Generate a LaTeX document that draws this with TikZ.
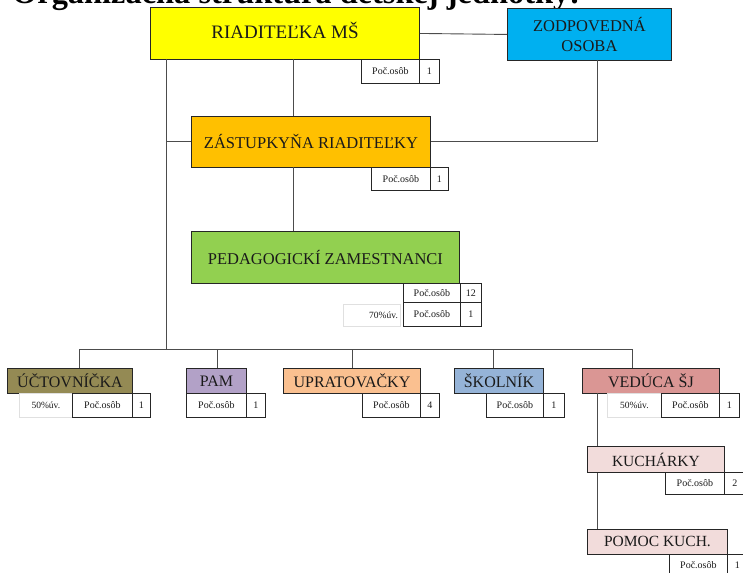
\documentclass[tikz,border=0pt]{standalone}
\usepackage{fontspec}
\setmainfont{Liberation Serif}
\definecolor{cyel}{HTML}{FFFF00}
\definecolor{cblue}{HTML}{00B0F0}
\definecolor{corange}{HTML}{FFC000}
\definecolor{cgreen}{HTML}{92D050}
\definecolor{colive}{HTML}{948A54}
\definecolor{clilac}{HTML}{B2A1C7}
\definecolor{cpeach}{HTML}{FAC090}
\definecolor{csky}{HTML}{95B3D7}
\definecolor{crose}{HTML}{DA9694}
\definecolor{cpink}{HTML}{F2DCDB}
\definecolor{ctext}{HTML}{1A1A1A}
\begin{document}
\begin{tikzpicture}[x=1pt,y=-1pt,
  box/.style={draw=black!85, line width=0.9pt, inner sep=0pt, anchor=north west, text=ctext, align=center},
  cell/.style={draw=black!85, line width=0.8pt, inner sep=0pt, anchor=north west, text=ctext, font=\fontsize{10}{12}\selectfont},
  pct/.style={draw=black!12, line width=0.8pt, inner sep=0pt, anchor=north west, text=ctext, font=\fontsize{9.5}{12}\selectfont},
  conn/.style={draw=black!70, line width=0.9pt},
  big/.style={font=\fontsize{19}{22}\selectfont},
  mid/.style={font=\fontsize{16.5}{20}\selectfont},
  low/.style={font=\fontsize{16}{19}\selectfont},
  sml/.style={font=\fontsize{15.5}{18}\selectfont}]
\useasboundingbox (0,0) rectangle (743,572);

% title (cut by page top)
\node[anchor=base west, inner sep=0pt, font=\fontsize{32.4}{36}\selectfont\bfseries] (T) at (12,4) {Organizačná štruktúra detskej jednotky:};

% main boxes
\node[box, big, fill=cyel, minimum width=269pt, minimum height=52pt, text height=12.6pt, text depth=2.6pt] (R) at (150,7) {RIADITEĽKA MŠ};
\node[box, mid, fill=cblue, minimum width=164pt, minimum height=52pt] (Z) at (507,8) {ZODPOVEDNÁ\\OSOBA};
\node[box, mid, fill=corange, minimum width=239pt, minimum height=51pt] (ZR) at (191,116) {ZÁSTUPKYŇA RIADITEĽKY};
\node[box, mid, fill=cgreen, minimum width=268pt, minimum height=52pt] (P) at (191,231) {PEDAGOGICKÍ ZAMESTNANCI};

\node[box, low, fill=colive, minimum width=125pt, minimum height=25pt] (U) at (7,368) {ÚČTOVNÍČKA};
\node[box, low, fill=clilac, minimum width=60pt, minimum height=25pt] (PAM) at (186,368) {PAM};
\node[box, low, fill=cpeach, minimum width=137pt, minimum height=25pt] (UP) at (283,368) {UPRATOVAČKY};
\node[box, low, fill=csky, minimum width=89pt, minimum height=25pt] (SK) at (454,368) {ŠKOLNÍK};
\node[box, low, fill=crose, minimum width=137pt, minimum height=25pt] (V) at (582,368) {VEDÚCA ŠJ};
\node[box, sml, fill=cpink, minimum width=137pt, minimum height=26pt] (K) at (587,446) {KUCHÁRKY};
\node[box, sml, fill=cpink, minimum width=140pt, minimum height=25pt] (PK) at (587,529) {POMOC KUCH.};

% count tables
\node[cell, minimum width=58pt, minimum height=24pt] (Rp) at (361,59) {Poč.osôb};
\node[cell, minimum width=20pt, minimum height=24pt] (Rn) at (419,59) {1};
\node[cell, minimum width=59pt, minimum height=23pt] (ZRp) at (371,167) {Poč.osôb};
\node[cell, minimum width=18pt, minimum height=23pt] (ZRn) at (430,167) {1};
\node[cell, minimum width=57pt, minimum height=19pt] (Pp1) at (403,283) {Poč.osôb};
\node[cell, minimum width=21pt, minimum height=19pt] (Pn1) at (460,283) {12};
\node[cell, minimum width=57pt, minimum height=24pt] (Pp2) at (403,302) {Poč.osôb};
\node[cell, minimum width=21pt, minimum height=24pt] (Pn2) at (460,302) {1};
\node[pct, minimum width=57pt, minimum height=22pt, text width=52pt, align=right] (Pq) at (343,304) {70\%úv.};

\node[pct, minimum width=53pt, minimum height=24pt] (Uq) at (19,393) {50\%úv.};
\node[cell, minimum width=60pt, minimum height=24pt] (Up) at (72,393) {Poč.osôb};
\node[cell, minimum width=18pt, minimum height=24pt] (Un) at (132,393) {1};
\node[cell, minimum width=60pt, minimum height=24pt] (PAMp) at (186,393) {Poč.osôb};
\node[cell, minimum width=19pt, minimum height=24pt] (PAMn) at (246,393) {1};
\node[cell, minimum width=58pt, minimum height=24pt] (UPp) at (362,393) {Poč.osôb};
\node[cell, minimum width=19pt, minimum height=24pt] (UPn) at (420,393) {4};
\node[cell, minimum width=57pt, minimum height=24pt] (SKp) at (486,393) {Poč.osôb};
\node[cell, minimum width=21pt, minimum height=24pt] (SKn) at (543,393) {1};
\node[pct, minimum width=54pt, minimum height=24pt] (Vq) at (607,393) {50\%úv.};
\node[cell, minimum width=58pt, minimum height=24pt] (Vp) at (661,393) {Poč.osôb};
\node[cell, minimum width=20pt, minimum height=24pt] (Vn) at (719,393) {1};
\node[cell, minimum width=59pt, minimum height=22pt] (Kp) at (665,472) {Poč.osôb};
\node[cell, minimum width=21pt, minimum height=22pt] (Kn) at (724,472) {2};
\node[cell, minimum width=58pt, minimum height=22pt] (PKp) at (669,554) {Poč.osôb};
\node[cell, minimum width=20pt, minimum height=22pt] (PKn) at (727,554) {1};

% connector anchor points
\coordinate (lt) at (166,59);
\coordinate (lb) at (166,349);
\coordinate (ra) at (293,59);
\coordinate (zb) at (293,167);
\coordinate (zt) at (597,60);
\coordinate (b1) at (79,349);
\coordinate (b2) at (217,349);
\coordinate (b3) at (352,349);
\coordinate (b4) at (493,349);
\coordinate (b5) at (632,349);
\coordinate (vk) at (597,393);

% connectors
\draw[conn] (R.east) -- (Z.west);
\draw[conn] (ra) -- (ra |- ZR.north);
\draw[conn] (zb) -- (zb |- P.north);
\draw[conn] (lt) -- (lb);
\draw[conn] (lt |- ZR.west) -- (ZR.west);
\draw[conn] (zt) -- (zt |- ZR.east) -- (ZR.east);
\draw[conn] (b1) -- (b5);
\draw[conn] (b1) -- (b1 |- U.north);
\draw[conn] (b2) -- (b2 |- PAM.north);
\draw[conn] (b3) -- (b3 |- UP.north);
\draw[conn] (b4) -- (b4 |- SK.north);
\draw[conn] (b5) -- (b5 |- V.north);
\draw[conn] (vk) -- (vk |- K.north);
\draw[conn] (vk |- K.south) -- (vk |- PK.north);
\end{tikzpicture}
\end{document}
